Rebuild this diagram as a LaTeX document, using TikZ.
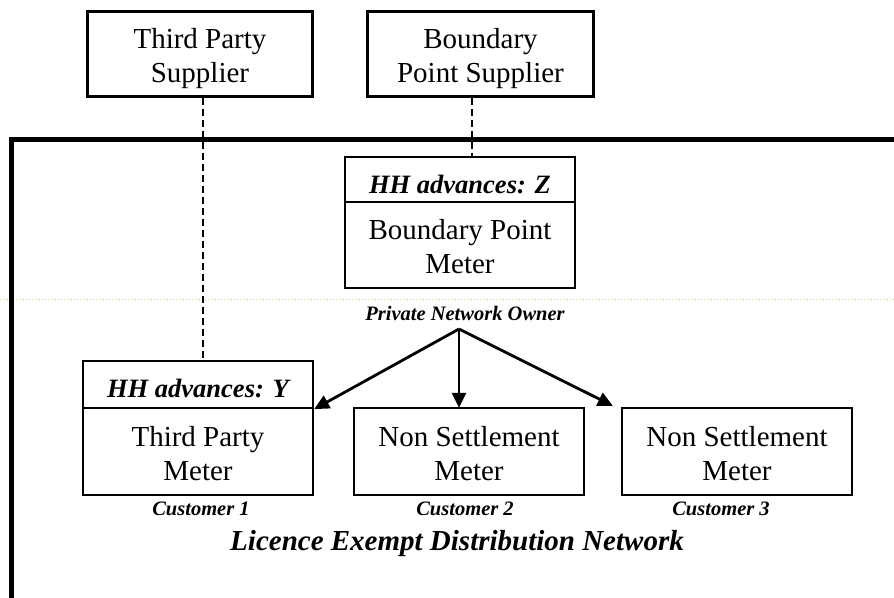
\documentclass[tikz,border=0pt]{standalone}
\usepackage{fontspec}
\setmainfont{Liberation Serif}
\usetikzlibrary{arrows.meta,calc}
\definecolor{faintline}{RGB}{210,210,150}
\begin{document}
\begin{tikzpicture}[x=1pt,y=-1pt,
  box/.style={draw, line width=2.3pt, inner sep=0pt},
  maintxt/.style={font=\fontsize{29}{33.5}\selectfont, align=center, inner sep=0pt, anchor=base},
  hhtxt/.style={font=\fontsize{26.5}{30}\selectfont\bfseries\itshape, inner sep=0pt, anchor=base},
  smalltxt/.style={font=\fontsize{20.5}{24}\selectfont\bfseries\itshape, inner sep=0pt, anchor=base},
  bigtxt/.style={font=\fontsize{29}{33}\selectfont\bfseries\itshape, inner sep=0pt, anchor=base},
  dashlink/.style={dash pattern=on 7pt off 4pt, line width=1.3pt},
  arrowlink/.style={line width=2.8pt, -{Triangle[length=15pt,width=14pt]}},
  framestyle/.style={line width=5pt, line join=miter}
]
\useasboundingbox (0,0) rectangle (894,597);

% faint page line
\draw[faintline, line width=1.2pt, dotted] (0,299.5) -- (894,299.5);

% network boundary frame
\coordinate (fbl) at (11.5,605);
\coordinate (ftl) at (11.5,139);
\coordinate (ftr) at (905,139);
\draw[framestyle] (fbl) -- (ftl) -- (ftr);

% boxes
\node[box, minimum width=225pt, minimum height=85pt] (TPS) at (200,54) {};
\node[box, minimum width=226pt, minimum height=85pt] (BPS) at (480.5,54) {};
\node[box, minimum width=230pt, minimum height=45pt] (BPMtop) at (460,179.5) {};
\node[box, minimum width=230pt, minimum height=86pt] (BPMbot) at (460,245) {};
\node[box, minimum width=230pt, minimum height=47pt] (TPMtop) at (198,384.5) {};
\node[box, minimum width=230pt, minimum height=87pt] (TPMbot) at (198,451.5) {};
\node[box, minimum width=230pt, minimum height=87pt] (NSM2) at (469,451.5) {};
\node[box, minimum width=230pt, minimum height=87pt] (NSM3) at (737,451.5) {};

% texts (base anchor = baseline of the last line)
\node[maintxt] (TPSt) at (200,82) {Third Party\\Supplier};
\node[maintxt] (BPSt) at (480.5,82) {Boundary\\Point Supplier};
\node[hhtxt] (BPMtopt) at (460,193) {HH advances: Z};
\node[maintxt] (BPMbott) at (460,273) {Boundary Point\\Meter};
\node[hhtxt] (TPMtopt) at (198,397) {HH advances: Y};
\node[maintxt] (TPMbott) at (198,480) {Third Party\\Meter};
\node[maintxt] (NSM2t) at (469,480) {Non Settlement\\Meter};
\node[maintxt] (NSM3t) at (737,480) {Non Settlement\\Meter};
\node[smalltxt] (PNO) at (465,320) {Private Network Owner};
\node[smalltxt] (C1) at (201,515) {Customer 1};
\node[smalltxt] (C2) at (465,515) {Customer 2};
\node[smalltxt] (C3) at (721,515) {Customer 3};
\node[bigtxt] (LEDN) at (457,550) {Licence Exempt Distribution Network};

% dashed supplier links
\draw[dashlink] ([xshift=3pt]TPS.south) -- ([xshift=3pt]TPS.south |- TPMtop.north);
\draw[dashlink] ([xshift=-8.5pt]BPS.south) -- ([xshift=-8.5pt]BPS.south |- BPMtop.north);

% owner arrows
\coordinate (hub) at (459,329);
\draw[arrowlink] (hub) -- (TPMtop.south east);
\draw[arrowlink] (hub) -- ([yshift=-1pt]hub |- NSM2.north);
\draw[arrowlink] (hub) -- ($(NSM3.north west)+(-8,-1)$);
\end{tikzpicture}
\end{document}
